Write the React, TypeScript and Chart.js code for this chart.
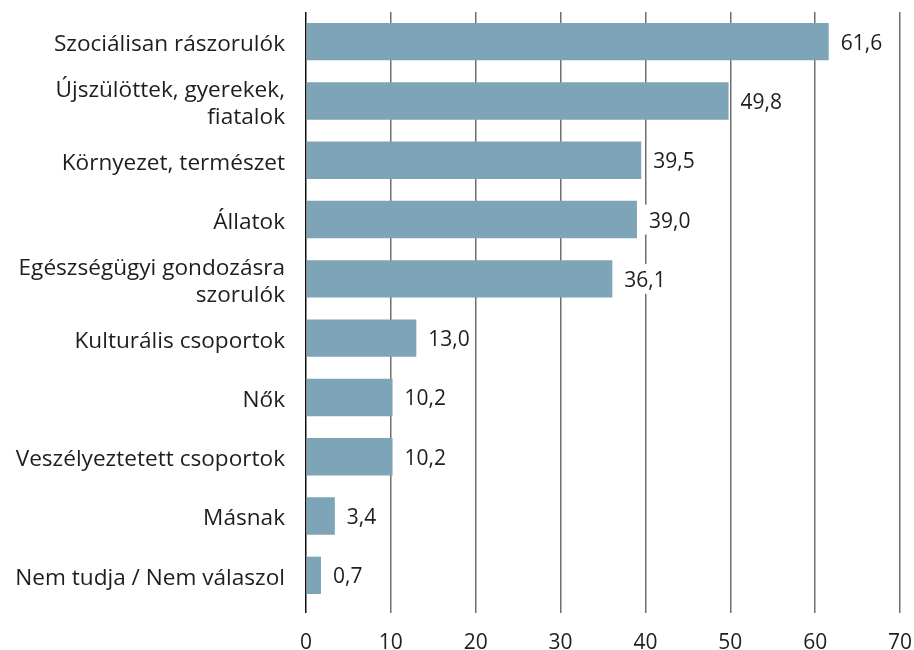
import React, { useEffect, useRef } from "react";
import { Chart, registerables } from "chart.js";

Chart.register(...registerables);

const categories: (string | string[])[] = [
  "Szociálisan rászorulók",
  ["Újszülöttek, gyerekek,", "fiatalok"],
  "Környezet, természet",
  "Állatok",
  ["Egészségügyi gondozásra", "szorulók"],
  "Kulturális csoportok",
  "Nők",
  "Veszélyeztetett csoportok",
  "Másnak",
  "Nem tudja / Nem válaszol",
];

const values: number[] = [61.6, 49.8, 39.5, 39.0, 36.1, 13.0, 10.2, 10.2, 3.4, 0.7];

const xTicks: number[] = [0, 10, 20, 30, 40, 50, 60, 70];

const FONT = "'Open Sans'";
const TEXT = "#1e1e1e";
const FS = 21;
const FS_Y = 22.6;

const labelPlugin = {
  id: "valueLabels",
  afterDatasetsDraw(chart: any) {
    const ctx = chart.ctx;
    const meta = chart.getDatasetMeta(0);
    ctx.save();
    ctx.font = `${FS}px ${FONT}`;
    ctx.textBaseline = "middle";
    ctx.textAlign = "left";
    meta.data.forEach((bar: any, i: number) => {
      const txt = values[i].toFixed(1).replace(".", ",");
      const w = ctx.measureText(txt).width;
      const x = bar.x + 12;
      const y = bar.y;
      ctx.fillStyle = "#ffffff";
      ctx.fillRect(x - 5, y - 15, w + 10, 30);
      ctx.fillStyle = TEXT;
      ctx.fillText(txt, x, y + 2);
    });
    ctx.restore();
  },
};

export default function App() {
  const ref = useRef<HTMLCanvasElement | null>(null);
  useEffect(() => {
    if (!ref.current) return;
    const chart = new Chart(ref.current, {
      type: "bar",
      data: {
        labels: categories as any,
        datasets: [
          {
            data: values,
            backgroundColor: "#7ea4b7",
            borderWidth: 0,
            barPercentage: 0.63,
            categoryPercentage: 1,
            minBarLength: 15,
          },
        ],
      },
      options: {
        indexAxis: "y",
        animation: false,
        responsive: false,
        maintainAspectRatio: false,
        layout: { padding: { top: 12, right: 14, left: 0, bottom: 0 } },
        plugins: {
          legend: { display: false },
          tooltip: { enabled: false },
        },
        scales: {
          x: {
            min: 0,
            max: 70,
            afterFit: (s: any) => {
              s.height = 45;
              s.paddingLeft = 0;
              s.paddingRight = 0;
            },
            afterBuildTicks: (s: any) => {
              s.ticks = xTicks.map((v) => ({ value: v }));
            },
            border: { display: false },
            grid: {
              color: (c: any) => (c.tick && c.tick.value === 0 ? "#111111" : "#6e6e6e"),
              lineWidth: 1.5,
              tickLength: 8,
              drawTicks: true,
            },
            ticks: {
              color: TEXT,
              font: { family: FONT, size: FS },
              padding: 17,
            },
          },
          y: {
            afterFit: (s: any) => {
              s.width = 306;
              s.paddingTop = 0;
              s.paddingBottom = 0;
            },
            border: { display: false },
            grid: { display: false, drawTicks: false },
            ticks: {
              color: TEXT,
              font: { family: FONT, size: FS_Y, lineHeight: "27px" },
              padding: 21,
              labelOffset: 3,
            },
          },
        },
      },
      plugins: [labelPlugin],
    });
    return () => chart.destroy();
  }, []);
  return (
    <div style={{ position: "fixed", left: 0, top: 0, width: 914, height: 650, background: "#fff" }}>
      <canvas ref={ref} width={914} height={650} style={{ width: 914, height: 650, display: "block" }} />
    </div>
  );
}
